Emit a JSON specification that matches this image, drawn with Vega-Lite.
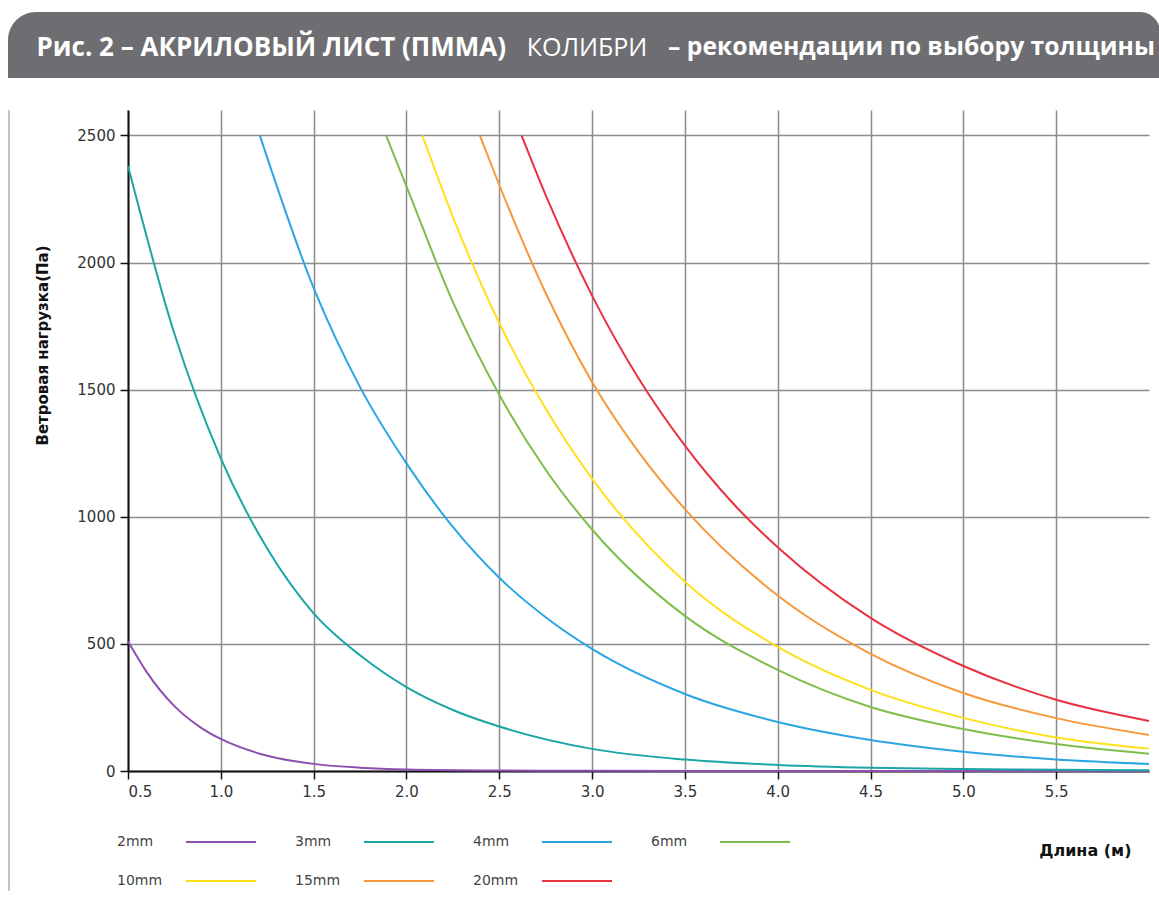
{
  "$schema": "https://vega.github.io/schema/vega-lite/v6.json",
  "padding": {"left": 7, "top": 12, "right": 0, "bottom": 0},
  "background": "white",
  "spacing": 31,
  "resolve": {"legend": {"color": "independent"}},
  "config": {"font": "DejaVu Sans"},
  "vconcat": [
    {
      "width": 1152,
      "height": 66,
      "view": {"stroke": null},
      "data": {"values": [{"a": "Рис. 2 – АКРИЛОВЫЙ ЛИСТ (ПММА)", "b": "КОЛИБРИ", "c": "– рекомендации по выбору толщины"}]},
      "layer": [
        {
          "mark": {"type": "rect", "color": "#6e6e72", "cornerRadiusTopLeft": 28, "cornerRadiusTopRight": 20},
          "encoding": {}
        },
        {
          "mark": {"type": "text", "color": "white", "font": "Open Sans", "fontWeight": "bold", "fontSize": 26, "align": "right", "baseline": "middle", "dx": -78, "dy": 3},
          "encoding": {"text": {"field": "a", "type": "nominal"}}
        },
        {
          "mark": {"type": "text", "color": "white", "font": "Open Sans", "fontWeight": "normal", "fontSize": 25, "align": "center", "baseline": "middle", "dx": 3, "dy": 3},
          "encoding": {"text": {"field": "b", "type": "nominal"}}
        },
        {
          "mark": {"type": "text", "color": "white", "font": "Open Sans", "fontWeight": "bold", "fontSize": 24.7, "align": "left", "baseline": "middle", "dx": 84, "dy": 3},
          "encoding": {"text": {"field": "c", "type": "nominal"}}
        }
      ]
    },
    {
      "spacing": 25,
      "resolve": {"legend": {"color": "independent"}},
      "hconcat": [
        {
          "width": 1,
          "height": 780,
          "view": {"stroke": "#c4c4c4", "strokeWidth": 1},
          "data": {"values": [{"t": ""}]},
          "mark": {"type": "text"},
          "encoding": {"text": {"field": "t", "type": "nominal"}}
        },
        {
          "width": 1021,
          "height": 661,
          "view": {"stroke": null},
          "data": {"values": [
            {"s": "2mm", "x": 0.5, "y": 510}, {"s": "2mm", "x": 0.6, "y": 390}, {"s": "2mm", "x": 0.75, "y": 255}, {"s": "2mm", "x": 0.9, "y": 167}, {"s": "2mm", "x": 1.0, "y": 126}, {"s": "2mm", "x": 1.25, "y": 60}, {"s": "2mm", "x": 1.5, "y": 28}, {"s": "2mm", "x": 1.75, "y": 13}, {"s": "2mm", "x": 2.0, "y": 6}, {"s": "2mm", "x": 2.5, "y": 2}, {"s": "2mm", "x": 3.0, "y": 1}, {"s": "2mm", "x": 4.0, "y": 0}, {"s": "2mm", "x": 5.0, "y": 0}, {"s": "2mm", "x": 6.0, "y": 0},
            {"s": "3mm", "x": 0.5, "y": 2380}, {"s": "3mm", "x": 0.75, "y": 1720}, {"s": "3mm", "x": 1.0, "y": 1230}, {"s": "3mm", "x": 1.25, "y": 875}, {"s": "3mm", "x": 1.5, "y": 620}, {"s": "3mm", "x": 1.75, "y": 455}, {"s": "3mm", "x": 2.0, "y": 330}, {"s": "3mm", "x": 2.25, "y": 240}, {"s": "3mm", "x": 2.5, "y": 175}, {"s": "3mm", "x": 3.0, "y": 87}, {"s": "3mm", "x": 3.5, "y": 45}, {"s": "3mm", "x": 4.0, "y": 24}, {"s": "3mm", "x": 4.5, "y": 13}, {"s": "3mm", "x": 5.0, "y": 8}, {"s": "3mm", "x": 5.5, "y": 5}, {"s": "3mm", "x": 6.0, "y": 3},
            {"s": "4mm", "x": 1.21, "y": 2500}, {"s": "4mm", "x": 1.5, "y": 1900}, {"s": "4mm", "x": 1.75, "y": 1510}, {"s": "4mm", "x": 2.0, "y": 1210}, {"s": "4mm", "x": 2.25, "y": 960}, {"s": "4mm", "x": 2.5, "y": 760}, {"s": "4mm", "x": 2.75, "y": 605}, {"s": "4mm", "x": 3.0, "y": 480}, {"s": "4mm", "x": 3.5, "y": 303}, {"s": "4mm", "x": 4.0, "y": 193}, {"s": "4mm", "x": 4.5, "y": 122}, {"s": "4mm", "x": 5.0, "y": 76}, {"s": "4mm", "x": 5.5, "y": 45}, {"s": "4mm", "x": 6.0, "y": 28},
            {"s": "6mm", "x": 1.89, "y": 2500}, {"s": "6mm", "x": 2.0, "y": 2300}, {"s": "6mm", "x": 2.25, "y": 1845}, {"s": "6mm", "x": 2.5, "y": 1480}, {"s": "6mm", "x": 2.75, "y": 1185}, {"s": "6mm", "x": 3.0, "y": 950}, {"s": "6mm", "x": 3.5, "y": 610}, {"s": "6mm", "x": 4.0, "y": 398}, {"s": "6mm", "x": 4.5, "y": 252}, {"s": "6mm", "x": 5.0, "y": 165}, {"s": "6mm", "x": 5.5, "y": 106}, {"s": "6mm", "x": 6.0, "y": 68},
            {"s": "10mm", "x": 2.085, "y": 2500}, {"s": "10mm", "x": 2.25, "y": 2180}, {"s": "10mm", "x": 2.5, "y": 1762}, {"s": "10mm", "x": 2.75, "y": 1425}, {"s": "10mm", "x": 3.0, "y": 1150}, {"s": "10mm", "x": 3.5, "y": 744}, {"s": "10mm", "x": 4.0, "y": 488}, {"s": "10mm", "x": 4.5, "y": 319}, {"s": "10mm", "x": 5.0, "y": 209}, {"s": "10mm", "x": 5.5, "y": 132}, {"s": "10mm", "x": 6.0, "y": 88},
            {"s": "15mm", "x": 2.395, "y": 2500}, {"s": "15mm", "x": 2.5, "y": 2305}, {"s": "15mm", "x": 2.75, "y": 1880}, {"s": "15mm", "x": 3.0, "y": 1530}, {"s": "15mm", "x": 3.25, "y": 1255}, {"s": "15mm", "x": 3.5, "y": 1030}, {"s": "15mm", "x": 4.0, "y": 690}, {"s": "15mm", "x": 4.5, "y": 461}, {"s": "15mm", "x": 5.0, "y": 307}, {"s": "15mm", "x": 5.5, "y": 208}, {"s": "15mm", "x": 6.0, "y": 142},
            {"s": "20mm", "x": 2.62, "y": 2500}, {"s": "20mm", "x": 2.75, "y": 2265}, {"s": "20mm", "x": 3.0, "y": 1870}, {"s": "20mm", "x": 3.25, "y": 1545}, {"s": "20mm", "x": 3.5, "y": 1280}, {"s": "20mm", "x": 3.75, "y": 1060}, {"s": "20mm", "x": 4.0, "y": 880}, {"s": "20mm", "x": 4.5, "y": 602}, {"s": "20mm", "x": 5.0, "y": 413}, {"s": "20mm", "x": 5.5, "y": 280}, {"s": "20mm", "x": 6.0, "y": 197}
          ]},
          "mark": {"type": "line", "interpolate": "monotone", "strokeWidth": 2},
          "encoding": {
            "x": {
              "field": "x", "type": "quantitative",
              "scale": {"domain": [0.5, 6.0], "nice": false, "zero": false},
              "axis": {
                "values": [0.5, 1.0, 1.5, 2.0, 2.5, 3.0, 3.5, 4.0, 4.5, 5.0, 5.5],
                "format": ".1f",
                "grid": true, "gridColor": "#8c8c8c", "gridWidth": 1.5,
                "domain": true, "domainColor": "#111", "domainWidth": 2,
                "tickColor": "#111", "tickSize": 8, "tickWidth": 1.5,
                "labelFont": "DejaVu Sans", "labelFontSize": 15, "labelColor": "#333", "labelPadding": 5,
                "title": "Длина (м)", "titleFont": "DejaVu Sans", "titleFontWeight": "bold", "titleFontSize": 16, "titleColor": "#111",
                "titleX": 1003, "titleY": 79, "titleAlign": "right", "titleBaseline": "middle", "titleAnchor": null
              }
            },
            "y": {
              "field": "y", "type": "quantitative",
              "scale": {"domain": [0, 2600], "nice": false},
              "axis": {
                "values": [0, 500, 1000, 1500, 2000, 2500],
                "format": "d",
                "grid": true, "gridColor": "#8c8c8c", "gridWidth": 1.5,
                "domain": true, "domainColor": "#111", "domainWidth": 2,
                "tickColor": "#111", "tickSize": 8, "tickWidth": 1.5,
                "labelFont": "DejaVu Sans", "labelFontSize": 15, "labelColor": "#333", "labelPadding": 5,
                "title": "Ветровая нагрузка(Па)", "titleFont": "DejaVu Sans", "titleFontWeight": "bold", "titleFontSize": 15, "titleColor": "#111",
                "titleAngle": -90, "titleX": -86, "titleY": 235, "titleAlign": "center", "titleBaseline": "middle", "titleAnchor": null
              }
            },
            "color": {
              "field": "s", "type": "nominal",
              "scale": {
                "domain": ["2mm", "3mm", "4mm", "6mm", "10mm", "15mm", "20mm"],
                "range": ["#8e4fae", "#1aa6a6", "#2ba6e3", "#7dbf4b", "#ffe01a", "#f7983a", "#e8323f"]
              },
              "legend": {
                "orient": "none", "legendX": -13, "legendY": 724,
                "direction": "horizontal", "columns": 4,
                "title": null, "padding": 0,
                "symbolType": "M-5,0H5", "symbolSize": 196, "symbolStrokeWidth": 2,
                "symbolOffset": 98,
                "labelOffset": -112, "labelAlign": "left", "labelBaseline": "middle",
                "labelFont": "DejaVu Sans", "labelFontSize": 14, "labelColor": "#444",
                "columnPadding": 33, "rowPadding": 24
              }
            }
          }
        }
      ]
    }
  ]
}
